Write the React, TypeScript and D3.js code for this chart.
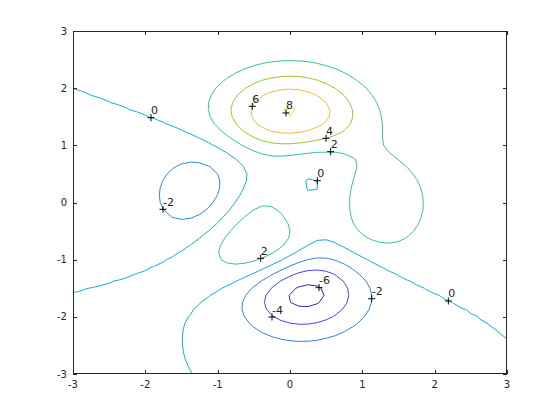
import React from "react";
import * as d3 from "d3";

// Contour levels and their colours (parula-like)
const levels = [-6, -4, -2, 0, 2, 4, 6, 8];
const levelColors = ["#3e26a8", "#4545ec", "#2b84ef", "#12aedb", "#35c3a0", "#a6c038", "#fbbb3d", "#f0f010"];

// Tick labels
const xTicks = [-3, -2, -1, 0, 1, 2, 3];
const yTicks = [-3, -2, -1, 0, 1, 2, 3];

// Contour labels (clabel)
const labelX = [-1.922, -0.521, -0.055, 0.498, 0.562, 0.378, -1.756, -0.405, 0.401, -0.249, 1.129, 2.189];
const labelY = [1.483, 1.683, 1.566, 1.123, 0.889, 0.381, -0.119, -0.977, -1.49, -2.003, -1.683, -1.723];
const labelText = ["0", "6", "8", "4", "2", "0", "-2", "2", "-6", "-4", "-2", "0"];

// The surface: MATLAB/Octave "peaks" on a 49x49 grid over [-3,3]
const N = 49;
const gridX = d3.range(N).map((i) => -3 + (i * 6) / (N - 1));
const gridY = gridX.slice();
function peaks(x: number, y: number) {
  return (
    3 * (1 - x) ** 2 * Math.exp(-x * x - (y + 1) ** 2) -
    10 * (x / 5 - x ** 3 - y ** 5) * Math.exp(-x * x - y * y) -
    (1 / 3) * Math.exp(-((x + 1) ** 2) - y * y)
  );
}
const gridZ: number[] = [];
for (let j = 0; j < N; j++) for (let i = 0; i < N; i++) gridZ.push(peaks(gridX[i], gridY[j]));

const W = 560, H = 420;
const L = 73, R = 507, T = 31, B = 374;

export default function App() {
  const x = d3.scaleLinear().domain([-3, 3]).range([L, R]);
  const y = d3.scaleLinear().domain([-3, 3]).range([B, T]);
  const gx = d3.scaleLinear().domain([0, N - 1]).range([gridX[0], gridX[N - 1]]);
  const gy = d3.scaleLinear().domain([0, N - 1]).range([gridY[0], gridY[N - 1]]);

  const contours = d3.contours().size([N, N]).thresholds(levels)(gridZ);
  const proj = d3.geoTransform({
    point: function (px: number, py: number) {
      (this as any).stream.point(x(gx(px - 0.5)), y(gy(py - 0.5)));
    },
  });
  const path = d3.geoPath(proj);

  const axisColor = "#262626";
  const font = "'DejaVu Sans', sans-serif";

  return (
    <svg width={W} height={H} style={{ position: "absolute", left: 0, top: 0, background: "#fff" }}>
      <defs>
        <clipPath id="plotclip">
          <rect x={L} y={T} width={R - L} height={B - T} />
        </clipPath>
      </defs>
      <rect x={0} y={0} width={W} height={H} fill="#fff" />
      <g clipPath="url(#plotclip)">
        {contours.map((c, k) => {
          const idx = levels.indexOf(c.value);
          return (
            <path
              key={k}
              d={path(c as any) || ""}
              fill="none"
              stroke={levelColors[idx]}
              strokeWidth={1}
            />
          );
        })}
      </g>
      {/* contour labels */}
      <g>
        {labelText.map((t, k) => {
          const px = x(labelX[k]);
          const py = y(labelY[k]);
          return (
            <g key={k}>
              <path
                d={`M${px - 3.5},${py}H${px + 3.5}M${px},${py - 3.5}V${py + 3.5}`}
                stroke="#000"
                strokeWidth={1}
                fill="none"
              />
              <text x={px} y={py - 3.5} fontSize={11} fontFamily={font} fill={axisColor}>
                {t}
              </text>
            </g>
          );
        })}
      </g>
      {/* axes box */}
      <rect x={L + 0.5} y={T + 0.5} width={R - L - 1} height={B - T - 1} fill="none" stroke={axisColor} strokeWidth={1} />
      {xTicks.map((t) => {
        const px = Math.round(x(t)) + 0.5;
        return (
          <g key={"x" + t}>
            <line x1={px} x2={px} y1={B} y2={B - 4} stroke={axisColor} />
            <line x1={px} x2={px} y1={T} y2={T + 4} stroke={axisColor} />
            <text x={x(t)} y={388} fontSize={10} fontFamily={font} fill={axisColor} textAnchor="middle">
              {t}
            </text>
          </g>
        );
      })}
      {yTicks.map((t) => {
        const py = Math.round(y(t)) + 0.5;
        return (
          <g key={"y" + t}>
            <line x1={L} x2={L + 4} y1={py} y2={py} stroke={axisColor} />
            <line x1={R} x2={R - 4} y1={py} y2={py} stroke={axisColor} />
            <text x={67} y={y(t)} dy="0.35em" fontSize={10} fontFamily={font} fill={axisColor} textAnchor="end">
              {t}
            </text>
          </g>
        );
      })}
    </svg>
  );
}
